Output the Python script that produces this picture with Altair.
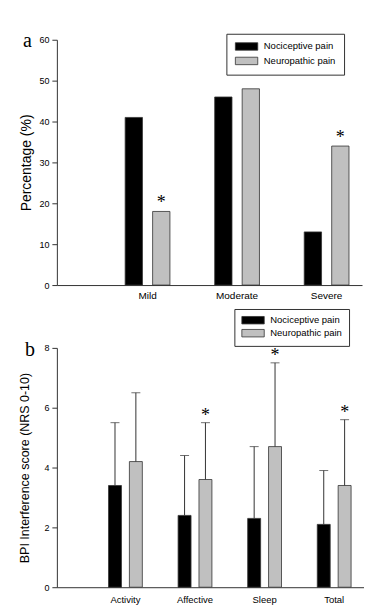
import altair as alt
import pandas as pd

# ---- Panel a data ----
severity = ["Mild", "Moderate", "Severe"]
groups = ["Nociceptive pain", "Neuropathic pain"]
noci_pct = [41, 46, 13]
neuro_pct = [18, 48, 34]
neuro_pct_sig = [True, False, True]

# ---- Panel b data ----
domains = ["Activity", "Affective", "Sleep", "Total"]
noci_mean = [3.4, 2.4, 2.3, 2.1]
noci_upper = [5.5, 4.4, 4.7, 3.9]
neuro_mean = [4.2, 3.6, 4.7, 3.4]
neuro_upper = [6.5, 5.5, 7.5, 5.6]
neuro_sig = [False, True, True, True]

colors = ["#000000", "#c0c0c0"]
SANS = "Liberation Sans"
SERIF = "Liberation Serif"
AX = "#333333"

rows_a = []
for i, c in enumerate(severity):
    rows_a.append({"cat": c, "group": groups[0], "value": noci_pct[i], "sig": False})
    rows_a.append({"cat": c, "group": groups[1], "value": neuro_pct[i], "sig": neuro_pct_sig[i]})
df_a = pd.DataFrame(rows_a)

rows_b = []
for i, c in enumerate(domains):
    rows_b.append({"cat": c, "group": groups[0], "mean": noci_mean[i], "upper": noci_upper[i], "sig": False})
    rows_b.append({"cat": c, "group": groups[1], "mean": neuro_mean[i], "upper": neuro_upper[i], "sig": neuro_sig[i]})
df_b = pd.DataFrame(rows_b)

# wide flat legend swatch: drawn 6 units wide, 2 units tall (unit = sqrt(size)/2)
LEG_SYMBOL = "M-1,-1H5V1H-1Z"


def color_enc(lx, ly, row_pad, pad):
    return alt.Color(
        "group:N", sort=groups,
        scale=alt.Scale(domain=groups, range=colors),
        legend=alt.Legend(
            title=None, orient="none", legendX=lx, legendY=ly,
            strokeColor=AX, padding=pad, symbolType=LEG_SYMBOL, symbolSize=56,
            symbolStrokeColor=AX, symbolStrokeWidth=0.8, symbolOpacity=1,
            labelFont=SANS, labelFontSize=9.5, labelColor="#000",
            labelOffset=20, rowPadding=row_pad,
        ),
    )


def x_enc(order, p_in, p_out, align, tick_pad, fsize):
    return alt.X(
        "cat:N", sort=order, title=None,
        scale=alt.Scale(domain=order, paddingInner=p_in, paddingOuter=p_out, align=align),
        axis=alt.Axis(labelAngle=0, ticks=False, domainColor=AX, labelFont=SANS,
                      labelFontSize=fsize, labelColor="#000", labelPadding=tick_pad),
    )


def xoff_enc(p):
    return alt.XOffset("group:N", sort=groups,
                       scale=alt.Scale(domain=groups, paddingInner=p, paddingOuter=0))


# ---- Panel a ----
ya = alt.Y(
    "value:Q",
    scale=alt.Scale(domain=[0, 60], nice=False),
    axis=alt.Axis(values=[0, 10, 20, 30, 40, 50, 60], grid=False, tickSize=5,
                  tickColor=AX, domainColor=AX, labelFont=SANS, labelFontSize=9,
                  labelColor="#000", labelPadding=3, title="Percentage (%)",
                  titleFont=SANS, titleFontSize=14, titleFontWeight="normal",
                  titleColor="#000", titlePadding=5),
)
xa = x_enc(severity, 0.5, 0.454, 0.84, 5, 10)

bars_a = alt.Chart(df_a).mark_bar(stroke=AX, strokeWidth=0.8).encode(
    x=xa, xOffset=xoff_enc(0.37), y=ya, color=color_enc(170, -6, 2.5, 8)
)
star_a = alt.Chart(df_a).transform_filter("datum.sig").mark_text(
    text="*", font=SERIF, fontSize=18, baseline="middle", dy=-8, color="#000"
).encode(x=alt.X("cat:N", sort=severity), xOffset=alt.XOffset("group:N", sort=groups), y="value:Q")
lab_a = alt.Chart(pd.DataFrame({"t": ["a"]})).mark_text(
    font=SERIF, fontSize=20, align="left", baseline="alphabetic", color="#000"
).encode(text="t:N", x=alt.value(-34), y=alt.value(7))

panel_a = alt.layer(bars_a, star_a, lab_a).properties(width=306, height=246)

# ---- Panel b ----
yb = alt.Y(
    "mean:Q",
    scale=alt.Scale(domain=[0, 8], nice=False),
    axis=alt.Axis(values=[0, 2, 4, 6, 8], grid=False, tickSize=5,
                  tickColor=AX, domainColor=AX, labelFont=SANS, labelFontSize=9,
                  labelColor="#000", labelPadding=3,
                  title="BPI Interference score (NRS 0-10)",
                  titleFont=SANS, titleFontSize=12.5, titleFontWeight="normal",
                  titleColor="#000", titlePadding=12),
)
xb = x_enc(domains, 0.514, 0.464, 0.8, 7, 9.5)

bars_b = alt.Chart(df_b).mark_bar(stroke=AX, strokeWidth=0.8).encode(
    x=xb, xOffset=xoff_enc(0.38), y=yb, color=color_enc(178, -39, 1, 6.5)
)
whisk_b = alt.Chart(df_b).mark_rule(color=AX, strokeWidth=1).encode(
    x=alt.X("cat:N", sort=domains), xOffset=alt.XOffset("group:N", sort=groups),
    y="mean:Q", y2="upper:Q"
)
cap_b = alt.Chart(df_b).mark_tick(color=AX, thickness=1, size=9, orient="horizontal").encode(
    x=alt.X("cat:N", sort=domains), xOffset=alt.XOffset("group:N", sort=groups),
    y="upper:Q"
)
star_b = alt.Chart(df_b).transform_filter("datum.sig").mark_text(
    text="*", font=SERIF, fontSize=18, baseline="middle", dy=-7, color="#000"
).encode(x=alt.X("cat:N", sort=domains), xOffset=alt.XOffset("group:N", sort=groups), y="upper:Q")
lab_b = alt.Chart(pd.DataFrame({"t": ["b"]})).mark_text(
    font=SERIF, fontSize=20, align="left", baseline="alphabetic", color="#000"
).encode(text="t:N", x=alt.value(-32), y=alt.value(8))

panel_b = alt.layer(bars_b, whisk_b, cap_b, star_b, lab_b).properties(width=308, height=240)

chart = alt.vconcat(panel_a, panel_b, spacing=8).resolve_scale(
    color="independent", x="independent", y="independent", xOffset="independent"
).resolve_legend(color="independent").properties(
    padding={"left": 10, "top": 22, "right": 0, "bottom": 0}, background="white"
).configure_view(stroke=None)

chart.save("out.html", embed_options={"renderer": "svg", "actions": False})
